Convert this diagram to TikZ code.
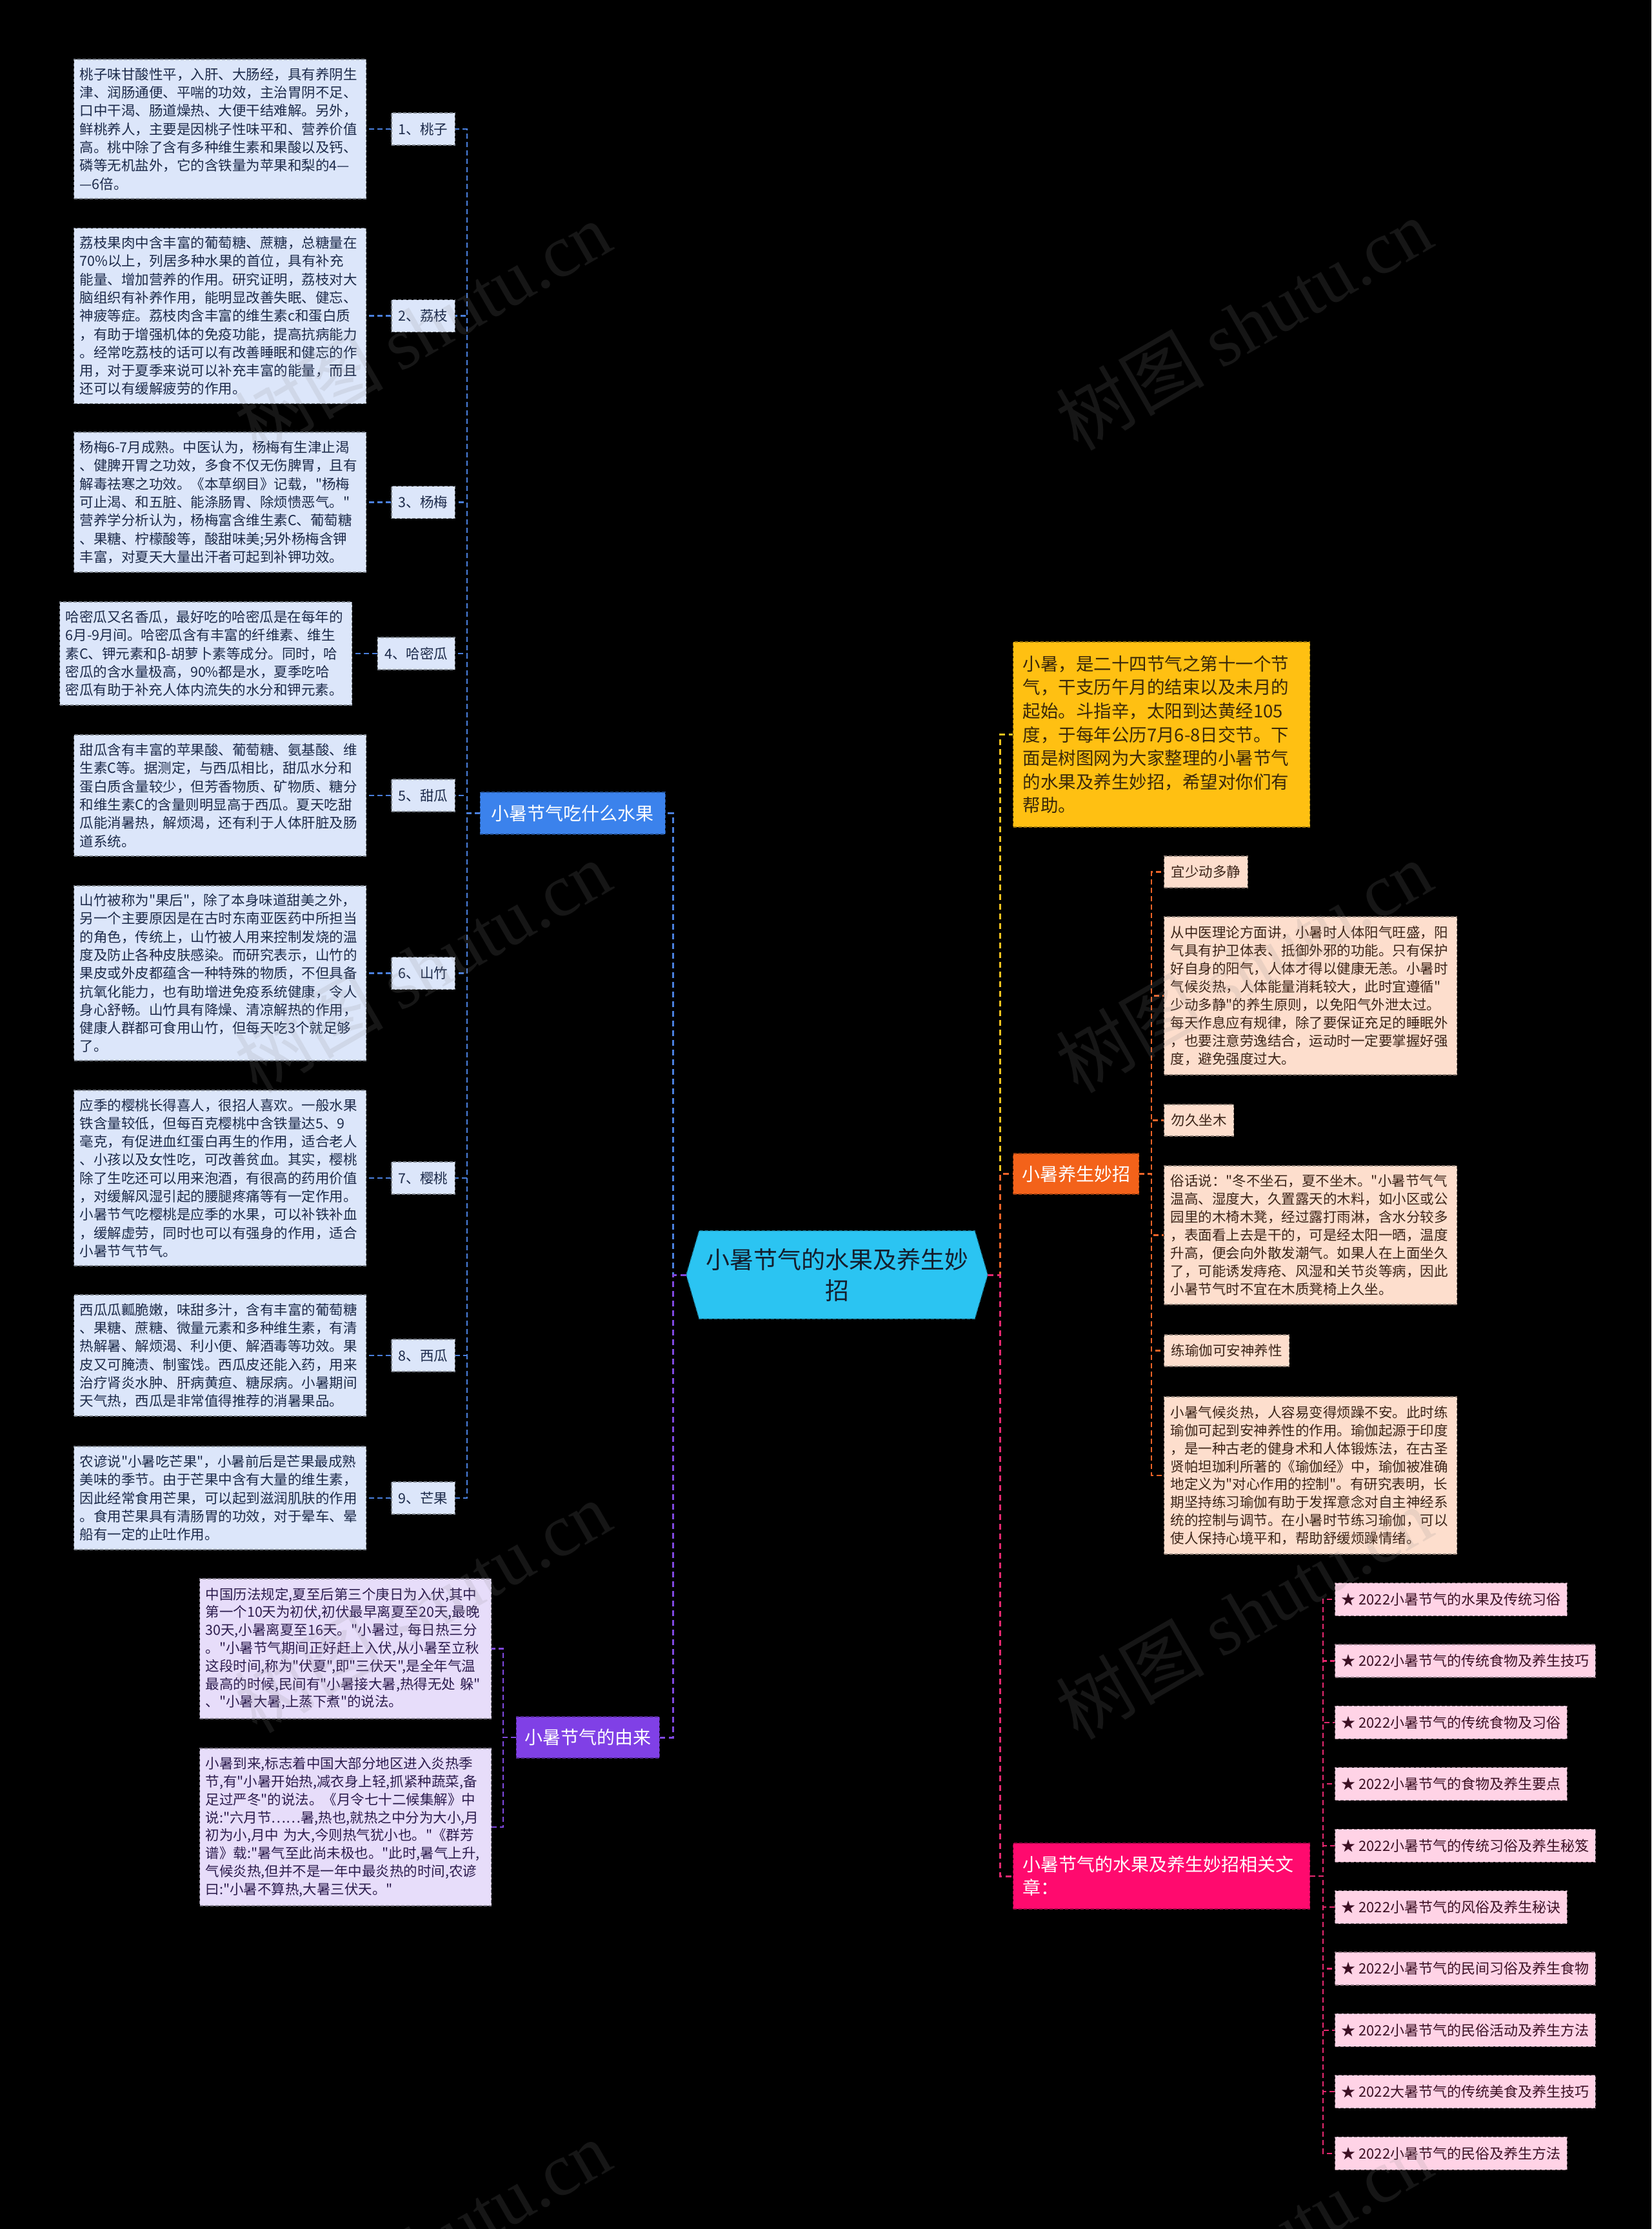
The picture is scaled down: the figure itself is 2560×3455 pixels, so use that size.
\documentclass[tikz,border=0pt]{standalone}
\usepackage{fontspec}
\setmainfont{Noto Sans CJK SC}[Ligatures=TeXOff]
\newfontfamily\wmlatin{Liberation Serif}
\usetikzlibrary{backgrounds,calc}

\definecolor{cblue}{RGB}{74,128,222}
\definecolor{cpurple}{RGB}{128,72,224}
\definecolor{cyellow}{RGB}{250,196,30}
\definecolor{corange}{RGB}{240,100,40}
\definecolor{cpink}{RGB}{232,40,112}
\definecolor{fblue}{RGB}{220,230,250}
\definecolor{fpurple}{RGB}{231,221,250}
\definecolor{fyellow}{RGB}{255,192,18}
\definecolor{fpeach}{RGB}{253,222,205}
\definecolor{fpink}{RGB}{255,211,230}
\definecolor{nblue}{RGB}{59,130,236}
\definecolor{npurple}{RGB}{128,64,230}
\definecolor{norange}{RGB}{243,98,26}
\definecolor{npink}{RGB}{255,10,110}
\definecolor{ncyan}{RGB}{43,196,242}
\definecolor{tblue}{RGB}{28,42,74}
\definecolor{tpurple}{RGB}{44,28,78}
\definecolor{tbrown}{RGB}{58,40,10}
\definecolor{tpeach}{RGB}{60,36,24}
\definecolor{tpink}{RGB}{60,16,36}
\definecolor{tcenter}{RGB}{20,30,45}
\definecolor{wmgray}{RGB}{140,140,140}

\tikzset{
  mainline/.style={line width=3pt, dash pattern=on 9pt off 6pt},
  subline/.style={line width=2.2pt, dash pattern=on 8pt off 5pt},
  boxbase/.style={rectangle, inner ysep=2pt, align=left, dash pattern=on 5pt off 3pt, line width=1.2pt},
  bluebox/.style={boxbase, fill=fblue, draw=fblue!55!black, text=tblue, font=\fontsize{21.5}{28.3}\selectfont},
  tbox/.style={bluebox, anchor=west, text width=435pt, inner xsep=9pt},
  lbl/.style={bluebox, anchor=east, inner xsep=11pt, minimum height=50pt},
  purplebox/.style={boxbase, fill=fpurple, draw=fpurple!55!black, text=tpurple, font=\fontsize{21.5}{27.8}\selectfont, anchor=west, text width=434pt, inner xsep=9pt},
  peachbox/.style={boxbase, fill=fpeach, draw=fpeach!55!black, text=tpeach, font=\fontsize{21.5}{27.9}\selectfont, anchor=west},
  peachtext/.style={peachbox, text width=434pt, inner xsep=10pt},
  peachlbl/.style={peachbox, inner xsep=11pt, minimum height=49pt},
  art/.style={boxbase, fill=fpink, draw=fpink!55!black, text=tpink, font=\fontsize{22}{28}\selectfont, anchor=west, inner xsep=10pt, minimum height=51pt},
  bnode/.style={rectangle, inner sep=0pt, text=white, font=\fontsize{28}{36}\selectfont, dash pattern=on 5pt off 3pt, line width=1.2pt},
  wm/.style={text=wmgray, opacity=0.16, rotate=30, font=\fontsize{115}{120}\selectfont}
}

\begin{document}
\begin{tikzpicture}[x=1pt, y=-1pt]
\useasboundingbox (0,0) rectangle (2560,3455);
\begin{scope}[on background layer]
  \fill[black] (0,0) rectangle (2560,3455);
\end{scope}

% ---------------- centre ----------------
\node[align=center, text=tcenter, font=\fontsize{37}{48}\selectfont, minimum width=467pt, minimum height=136pt, inner sep=0pt] (ctr) at (1297.5,1976) {小暑节气的水果及养生妙\\招};
\begin{scope}[on background layer]
  \fill[ncyan] (ctr.west) -- ($(ctr.north west)+(20,0)$) -- ($(ctr.north east)+(-20,0)$) -- (ctr.east) -- ($(ctr.south east)+(-20,0)$) -- ($(ctr.south west)+(20,0)$) -- cycle;
  \draw[ncyan!60!black, dash pattern=on 5pt off 3pt, line width=1.2pt] (ctr.west) -- ($(ctr.north west)+(20,0)$) -- ($(ctr.north east)+(-20,0)$) -- (ctr.east) -- ($(ctr.south east)+(-20,0)$) -- ($(ctr.south west)+(20,0)$) -- cycle;
\end{scope}

% ---------------- left branch 1 ----------------
\node[bnode, fill=nblue, draw=nblue!60!black, anchor=east, minimum width=287pt, minimum height=65pt] (b1) at (1032,1260.5) {小暑节气吃什么水果};

\node[lbl] (l1) at (706,200) {1、桃子};
\node[lbl] (l2) at (706,489.5) {2、荔枝};
\node[lbl] (l3) at (706,778.5) {3、杨梅};
\node[lbl] (l4) at (706,1013) {4、哈密瓜};
\node[lbl] (l5) at (706,1233) {5、甜瓜};
\node[lbl] (l6) at (706,1508.5) {6、山竹};
\node[lbl] (l7) at (706,1826) {7、樱桃};
\node[lbl] (l8) at (706,2101) {8、西瓜};
\node[lbl] (l9) at (706,2322) {9、芒果};

\node[tbox, minimum height=216pt] (t1) at (114,200) {桃子味甘酸性平，入肝、大肠经，具有养阴生\\津、润肠通便、平喘的功效，主治胃阴不足、\\口中干渴、肠道燥热、大便干结难解。另外，\\鲜桃养人，主要是因桃子性味平和、营养价值\\高。桃中除了含有多种维生素和果酸以及钙、\\磷等无机盐外，它的含铁量为苹果和梨的4—\\—6倍。};
\node[tbox, minimum height=272pt] (t2) at (114,489.5) {荔枝果肉中含丰富的葡萄糖、蔗糖，总糖量在\\70\%以上，列居多种水果的首位，具有补充\\能量、增加营养的作用。研究证明，荔枝对大\\脑组织有补养作用，能明显改善失眠、健忘、\\神疲等症。荔枝肉含丰富的维生素c和蛋白质\\，有助于增强机体的免疫功能，提高抗病能力\\。经常吃荔枝的话可以有改善睡眠和健忘的作\\用，对于夏季来说可以补充丰富的能量，而且\\还可以有缓解疲劳的作用。};
\node[tbox, minimum height=217pt] (t3) at (114,778.5) {杨梅6-7月成熟。中医认为，杨梅有生津止渴\\、健脾开胃之功效，多食不仅无伤脾胃，且有\\解毒祛寒之功效。《本草纲目》记载，"杨梅\\可止渴、和五脏、能涤肠胃、除烦愦恶气。"\\营养学分析认为，杨梅富含维生素C、葡萄糖\\、果糖、柠檬酸等，酸甜味美;另外杨梅含钾\\丰富，对夏天大量出汗者可起到补钾功效。};
\node[tbox, minimum height=160pt] (t4) at (92,1013) {哈密瓜又名香瓜，最好吃的哈密瓜是在每年的\\6月-9月间。哈密瓜含有丰富的纤维素、维生\\素C、钾元素和β-胡萝卜素等成分。同时，哈\\密瓜的含水量极高，90\%都是水，夏季吃哈\\密瓜有助于补充人体内流失的水分和钾元素。};
\node[tbox, minimum height=188pt] (t5) at (114,1233) {甜瓜含有丰富的苹果酸、葡萄糖、氨基酸、维\\生素C等。据测定，与西瓜相比，甜瓜水分和\\蛋白质含量较少，但芳香物质、矿物质、糖分\\和维生素C的含量则明显高于西瓜。夏天吃甜\\瓜能消暑热，解烦渴，还有利于人体肝脏及肠\\道系统。};
\node[tbox, minimum height=271pt] (t6) at (114,1508.5) {山竹被称为"果后"，除了本身味道甜美之外，\\另一个主要原因是在古时东南亚医药中所担当\\的角色，传统上，山竹被人用来控制发烧的温\\度及防止各种皮肤感染。而研究表示，山竹的\\果皮或外皮都蕴含一种特殊的物质，不但具备\\抗氧化能力，也有助增进免疫系统健康，令人\\身心舒畅。山竹具有降燥、清凉解热的作用，\\健康人群都可食用山竹，但每天吃3个就足够\\了。};
\node[tbox, minimum height=272pt] (t7) at (114,1826) {应季的樱桃长得喜人，很招人喜欢。一般水果\\铁含量较低，但每百克樱桃中含铁量达5、9\\毫克，有促进血红蛋白再生的作用，适合老人\\、小孩以及女性吃，可改善贫血。其实，樱桃\\除了生吃还可以用来泡酒，有很高的药用价值\\，对缓解风湿引起的腰腿疼痛等有一定作用。\\小暑节气吃樱桃是应季的水果，可以补铁补血\\，缓解虚劳，同时也可以有强身的作用，适合\\小暑节气节气。};
\node[tbox, minimum height=188pt] (t8) at (114,2101) {西瓜瓜瓤脆嫩，味甜多汁，含有丰富的葡萄糖\\、果糖、蔗糖、微量元素和多种维生素，有清\\热解暑、解烦渴、利小便、解酒毒等功效。果\\皮又可腌渍、制蜜饯。西瓜皮还能入药，用来\\治疗肾炎水肿、肝病黄疸、糖尿病。小暑期间\\天气热，西瓜是非常值得推荐的消暑果品。};
\node[tbox, minimum height=160pt] (t9) at (114,2322) {农谚说"小暑吃芒果"，小暑前后是芒果最成熟\\美味的季节。由于芒果中含有大量的维生素，\\因此经常食用芒果，可以起到滋润肌肤的作用\\。食用芒果具有清肠胃的功效，对于晕车、晕\\船有一定的止吐作用。};

% ---------------- left branch 2 ----------------
\node[bnode, fill=npurple, draw=npurple!60!black, anchor=east, minimum width=222pt, minimum height=64pt] (b2) at (1023,2693) {小暑节气的由来};
\node[purplebox, minimum height=217pt] (oa) at (309,2555.5) {中国历法规定,夏至后第三个庚日为入伏,其中\\第一个10天为初伏,初伏最早离夏至20天,最晚\\30天,小暑离夏至16天。"小暑过, 每日热三分\\。"小暑节气期间正好赶上入伏,从小暑至立秋\\这段时间,称为"伏夏",即"三伏天",是全年气温\\最高的时候,民间有"小暑接大暑,热得无处 躲"\\、"小暑大暑,上蒸下煮"的说法。};
\node[purplebox, minimum height=244pt] (ob) at (309,2832) {小暑到来,标志着中国大部分地区进入炎热季\\节,有"小暑开始热,减衣身上轻,抓紧种蔬菜,备\\足过严冬"的说法。《月令七十二候集解》中\\说:"六月节……暑,热也,就热之中分为大小,月\\初为小,月中 为大,今则热气犹小也。"《群芳\\谱》载:"暑气至此尚未极也。"此时,暑气上升,\\气候炎热,但并不是一年中最炎热的时间,农谚\\曰:"小暑不算热,大暑三伏天。"};

% ---------------- right ----------------
\node[boxbase, fill=fyellow, draw=fyellow!60!black, text=tbrown, font=\fontsize{27.5}{36.6}\selectfont, anchor=west, text width=430pt, inner xsep=15pt, inner ysep=0pt, minimum height=287pt] (r1) at (1570,1138.5) {小暑，是二十四节气之第十一个节\\气，干支历午月的结束以及未月的\\起始。斗指辛，太阳到达黄经105\\度，于每年公历7月6-8日交节。下\\面是树图网为大家整理的小暑节气\\的水果及养生妙招，希望对你们有\\帮助。};
\node[bnode, fill=norange, draw=norange!60!black, anchor=west, minimum width=195pt, minimum height=63pt] (r2) at (1570,1819.5) {小暑养生妙招};
\node[bnode, fill=npink, draw=npink!60!black, anchor=west, align=left, text width=430pt, inner xsep=15pt, minimum height=102pt] (r3) at (1570,2908) {小暑节气的水果及养生妙招相关文\\章：};

\node[peachlbl] (o1) at (1804,1351.5) {宜少动多静};
\node[peachtext, minimum height=245pt] (o2) at (1804,1543.5) {从中医理论方面讲，小暑时人体阳气旺盛，阳\\气具有护卫体表、抵御外邪的功能。只有保护\\好自身的阳气，人体才得以健康无恙。小暑时\\气候炎热，人体能量消耗较大，此时宜遵循"\\少动多静"的养生原则，以免阳气外泄太过。\\每天作息应有规律，除了要保证充足的睡眠外\\，也要注意劳逸结合，运动时一定要掌握好强\\度，避免强度过大。};
\node[peachlbl] (o3) at (1804,1736.5) {勿久坐木};
\node[peachtext, minimum height=215pt] (o4) at (1804,1914.5) {俗话说："冬不坐石，夏不坐木。"小暑节气气\\温高、湿度大，久置露天的木料，如小区或公\\园里的木椅木凳，经过露打雨淋，含水分较多\\，表面看上去是干的，可是经太阳一晒，温度\\升高，便会向外散发潮气。如果人在上面坐久\\了，可能诱发痔疮、风湿和关节炎等病，因此\\小暑节气时不宜在木质凳椅上久坐。};
\node[peachlbl] (o5) at (1804,2093.5) {练瑜伽可安神养性};
\node[peachtext, minimum height=244pt] (o6) at (1804,2287) {小暑气候炎热，人容易变得烦躁不安。此时练\\瑜伽可起到安神养性的作用。瑜伽起源于印度\\，是一种古老的健身术和人体锻炼法，在古圣\\贤帕坦珈利所著的《瑜伽经》中，瑜伽被准确\\地定义为"对心作用的控制"。有研究表明，长\\期坚持练习瑜伽有助于发挥意念对自主神经系\\统的控制与调节。在小暑时节练习瑜伽，可以\\使人保持心境平和，帮助舒缓烦躁情绪。};

\foreach \t [count=\i] in {2022小暑节气的水果及传统习俗, 2022小暑节气的传统食物及养生技巧, 2022小暑节气的传统食物及习俗, 2022小暑节气的食物及养生要点, 2022小暑节气的传统习俗及养生秘笈, 2022小暑节气的风俗及养生秘诀, 2022小暑节气的民间习俗及养生食物, 2022小暑节气的民俗活动及养生方法, 2022大暑节气的传统美食及养生技巧, 2022小暑节气的民俗及养生方法}
  \node[art] (a\i) at (2069,{2479+95.4*(\i-1)}) {★ \t};

% ---------------- connectors ----------------
\draw[cblue, mainline] (ctr.west) -- ++(-20,0) |- (b1.east);
\draw[cpurple, mainline] (ctr.west) -- ++(-20,0) |- (b2.east);
\foreach \i in {1,...,9} {
  \draw[cblue, subline] (b1.west) -- ++(-20,0) |- (l\i.east);
  \draw[cblue, subline] (l\i.west) -- (t\i.east);
}
\draw[cpurple, subline] (b2.west) -- ++(-20,0) |- (oa.east);
\draw[cpurple, subline] (b2.west) -- ++(-20,0) |- (ob.east);

\draw[cyellow, mainline] (ctr.east) -- ++(19,0) |- (r1.west);
\draw[corange, mainline] (ctr.east) -- ++(19,0) |- (r2.west);
\draw[cpink, mainline] (ctr.east) -- ++(19,0) |- (r3.west);
\foreach \i in {1,...,6}
  \draw[corange, subline] (r2.east) -- ++(19,0) |- (o\i.west);
\foreach \i in {1,...,10}
  \draw[cpink, subline] (r3.east) -- ++(20,0) |- (a\i.west);

% ---------------- watermarks ----------------
\foreach \p in {(655,507),(1928,502),(655,1498),(1928,1498),(655,2490),(1928,2500),(655,3481),(1928,3492)}
  \node[wm] at \p {树图 {\wmlatin shutu.cn}};
\end{tikzpicture}
\end{document}
